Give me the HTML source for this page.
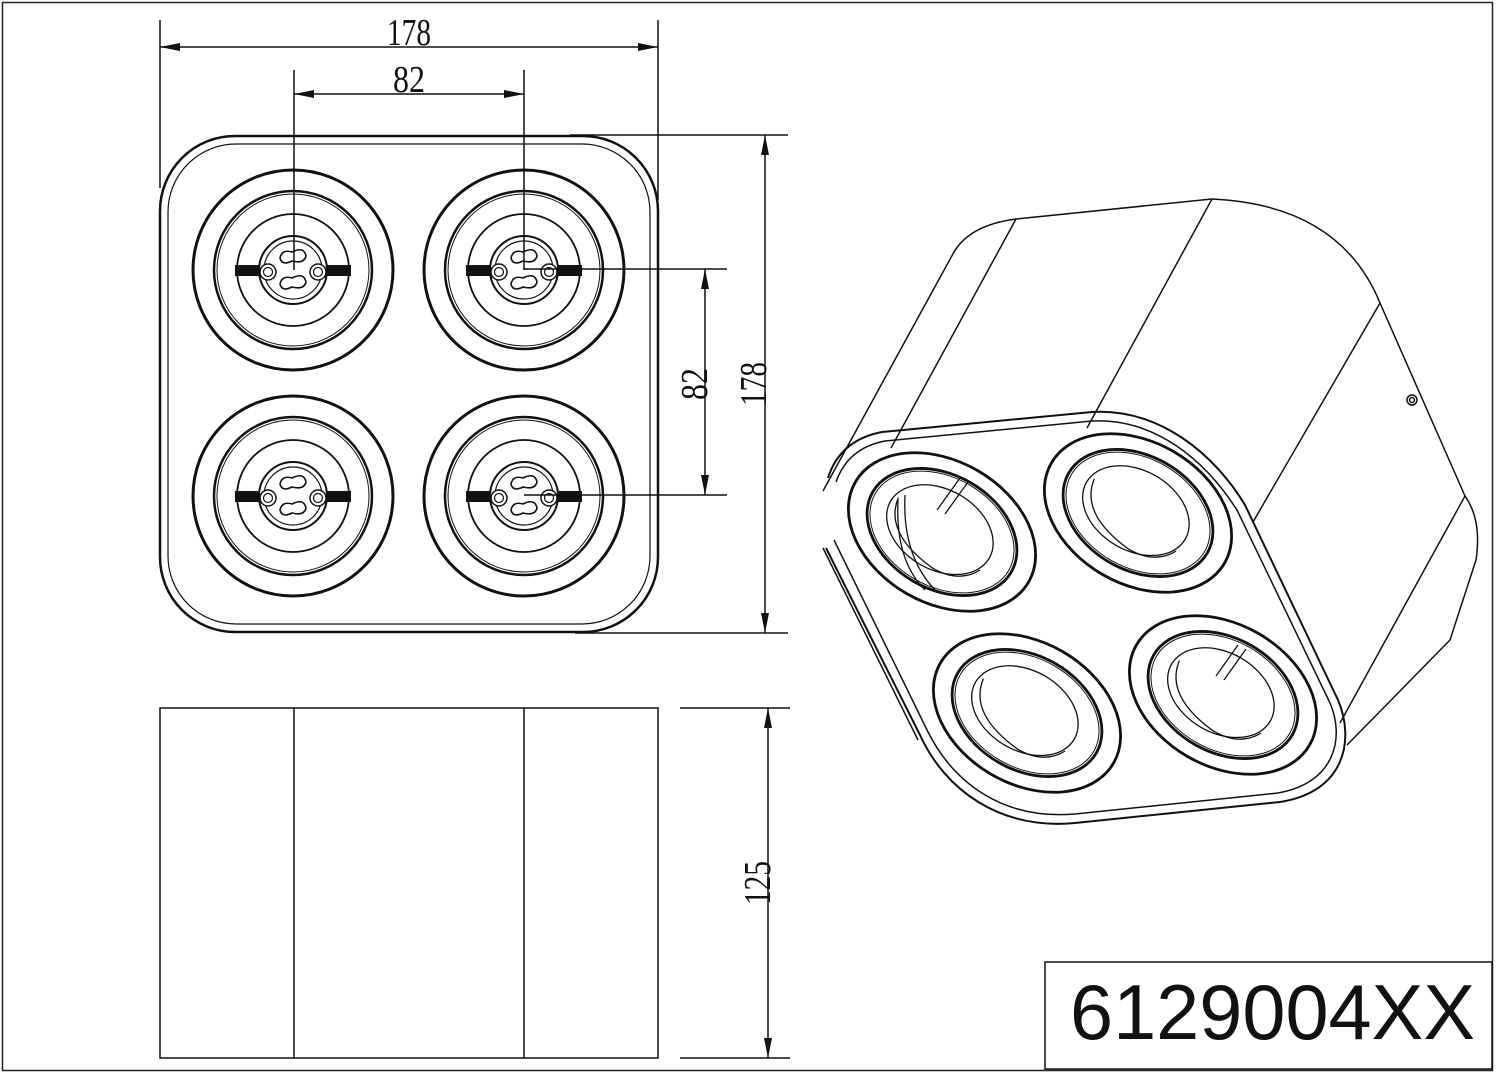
<!DOCTYPE html>
<html><head><meta charset="utf-8"><style>
html,body{margin:0;padding:0;background:#fff;}
svg{display:block;}
.t{font-family:"Liberation Serif",serif;font-size:38px;fill:#111;}
</style></head><body>
<svg width="1500" height="1075" viewBox="0 0 1500 1075" xmlns="http://www.w3.org/2000/svg">
<defs>
<marker id="a" viewBox="0 0 20 8" refX="20" refY="4" markerWidth="20" markerHeight="8" markerUnits="userSpaceOnUse" orient="auto-start-reverse"><path d="M0,0 L20,4 L0,8 z" fill="#111"/></marker>
<g id="sock">
<circle r="100" fill="none" stroke="#111" stroke-width="3"/>
<circle r="79" fill="none" stroke="#111" stroke-width="2.5"/>
<circle r="76" fill="none" stroke="#111" stroke-width="1"/>
<circle r="56" fill="none" stroke="#111" stroke-width="1.8"/>
<rect x="-58" y="-5" width="24" height="11" fill="#111"/>
<rect x="34" y="-5" width="24" height="11" fill="#111"/>
<circle r="34" fill="#fff" stroke="#111" stroke-width="2"/>
<circle r="29" fill="none" stroke="#111" stroke-width="1.2"/>
<circle cx="-25" cy="2" r="8" fill="#fff" stroke="#111" stroke-width="1.5"/>
<circle cx="-25" cy="2" r="4.5" fill="none" stroke="#111" stroke-width="1.2"/>
<circle cx="25" cy="2" r="8" fill="#fff" stroke="#111" stroke-width="1.5"/>
<circle cx="25" cy="2" r="4.5" fill="none" stroke="#111" stroke-width="1.2"/>
<path d="M-13,-12 q2,-9 12,-6 q12,-6 14,4 q-2,8 -14,5 q-10,5 -12,-3z" fill="none" stroke="#111" stroke-width="1.6"/>
<path d="M-13,14 q2,-9 12,-6 q12,-6 14,4 q-2,8 -14,5 q-10,5 -12,-3z" fill="none" stroke="#111" stroke-width="1.6"/>
</g>
<g id="iso">
<ellipse rx="100" ry="71" stroke-width="2.8"/>
<ellipse rx="80" ry="57" stroke-width="2.8"/>
<ellipse rx="77" ry="54.5" stroke-width="1"/>
<ellipse cx="-3" cy="-1" rx="57" ry="40" stroke-width="1.3"/>
<path d="M-55,-8 Q-50,30 10,36 Q40,36 52,14" stroke-width="1.3"/>
</g>
</defs>
<rect x="2.5" y="2.5" width="1490" height="1068" fill="none" stroke="#222" stroke-width="1.5"/>

<!-- top view -->
<rect x="160" y="136" width="498" height="496" rx="75" fill="none" stroke="#111" stroke-width="2.5"/>
<rect x="168" y="144" width="482" height="480" rx="68" fill="none" stroke="#111" stroke-width="1.2"/>
<use href="#sock" x="293" y="270"/>
<use href="#sock" x="524" y="270"/>
<use href="#sock" x="293" y="496"/>
<use href="#sock" x="524" y="496"/>

<!-- top dims -->
<line x1="160" y1="20" x2="160" y2="188" stroke="#111" stroke-width="1.5"/>
<line x1="658" y1="20" x2="658" y2="200" stroke="#111" stroke-width="1.5"/>
<line x1="160" y1="47" x2="658" y2="47" stroke="#111" stroke-width="1.5" marker-start="url(#a)" marker-end="url(#a)"/>
<text class="t" x="409" y="45" text-anchor="middle" textLength="44" lengthAdjust="spacingAndGlyphs">178</text>
<line x1="294" y1="70" x2="294" y2="270" stroke="#111" stroke-width="1.5"/>
<line x1="524" y1="70" x2="524" y2="270" stroke="#111" stroke-width="1.5"/>
<line x1="294" y1="94" x2="524" y2="94" stroke="#111" stroke-width="1.5" marker-start="url(#a)" marker-end="url(#a)"/>
<text class="t" x="409" y="92" text-anchor="middle" textLength="32" lengthAdjust="spacingAndGlyphs">82</text>

<!-- right dims -->
<line x1="570" y1="135" x2="788" y2="135" stroke="#111" stroke-width="1.5"/>
<line x1="575" y1="633" x2="788" y2="633" stroke="#111" stroke-width="1.5"/>
<line x1="765" y1="135" x2="765" y2="633" stroke="#111" stroke-width="1.5" marker-start="url(#a)" marker-end="url(#a)"/>
<text class="t" transform="translate(766,384) rotate(-90)" text-anchor="middle" textLength="44" lengthAdjust="spacingAndGlyphs">178</text>
<line x1="524" y1="269" x2="727" y2="269" stroke="#111" stroke-width="1.5"/>
<line x1="524" y1="495" x2="727" y2="495" stroke="#111" stroke-width="1.5"/>
<line x1="705" y1="269" x2="705" y2="495" stroke="#111" stroke-width="1.5" marker-start="url(#a)" marker-end="url(#a)"/>
<text class="t" transform="translate(707,384) rotate(-90)" text-anchor="middle" textLength="32" lengthAdjust="spacingAndGlyphs">82</text>

<!-- side view -->
<rect x="160" y="708" width="498" height="350" fill="none" stroke="#111" stroke-width="1.5"/>
<line x1="294" y1="708" x2="294" y2="1058" stroke="#111" stroke-width="1.5"/>
<line x1="524" y1="708" x2="524" y2="1058" stroke="#111" stroke-width="1.5"/>
<line x1="680" y1="708" x2="790" y2="708" stroke="#111" stroke-width="1.5"/>
<line x1="680" y1="1058" x2="790" y2="1058" stroke="#111" stroke-width="1.5"/>
<line x1="768" y1="708" x2="768" y2="1058" stroke="#111" stroke-width="1.5" marker-start="url(#a)" marker-end="url(#a)"/>
<text class="t" transform="translate(770,883) rotate(-90)" text-anchor="middle" textLength="44" lengthAdjust="spacingAndGlyphs">125</text>

<!-- iso view -->
<g fill="none" stroke="#111" stroke-width="1.5" stroke-linejoin="round">
<path d="M1016,219 L1212,199 Q1340,205 1380,303 L1465,496 Q1482,520 1476,560 L1450,640 L1347,745"/>
<path d="M1016,219 Q970,225 954,252 L823,491"/>
<line x1="1016" y1="219" x2="891" y2="448"/>
<line x1="1212" y1="199" x2="1087" y2="428"/>
<line x1="1380" y1="303" x2="1253" y2="522"/>
<line x1="1465" y1="496" x2="1340" y2="723"/>
<circle cx="1412" cy="400" r="5"/>
<circle cx="1412" cy="400" r="2.5"/>
<path d="M828,478 Q840,440 882,432 L1092,412 C1160,408 1215,455 1245,505 L1338,700 C1355,740 1345,792 1280,802 L1075,823 C1000,830 945,790 920,735 L826,548" stroke-width="2"/>
<path d="M836,482 Q848,448 885,441 L1092,421 C1155,418 1205,460 1237,510 L1330,703 C1345,738 1335,783 1278,793 L1075,814 C1005,820 955,785 928,732 L834,540"/>
<line x1="823" y1="548" x2="918" y2="740"/>
</g>
<g fill="none" stroke="#111">
<use href="#iso" transform="translate(942,532) rotate(30)"/>
<use href="#iso" transform="translate(1138,513) rotate(30)"/>
<use href="#iso" transform="translate(1027,713) rotate(30)"/>
<use href="#iso" transform="translate(1223,695) rotate(30)"/>
<g stroke-width="1.3">
<line x1="937" y1="510" x2="960" y2="478"/><line x1="945" y1="514" x2="968" y2="482"/>
<line x1="1216" y1="676" x2="1238" y2="645"/><line x1="1224" y1="680" x2="1246" y2="649"/>
<path d="M898,500 Q895,560 925,590"/><path d="M905,495 Q902,555 935,590"/>
</g>
</g>

<!-- label -->
<rect x="1045" y="962" width="447" height="107" fill="none" stroke="#111" stroke-width="1.5"/>
<text x="1070" y="1039" font-family="Liberation Sans, sans-serif" font-size="78" fill="#111" textLength="405" lengthAdjust="spacingAndGlyphs">6129004XX</text>
</svg>
</body></html>
